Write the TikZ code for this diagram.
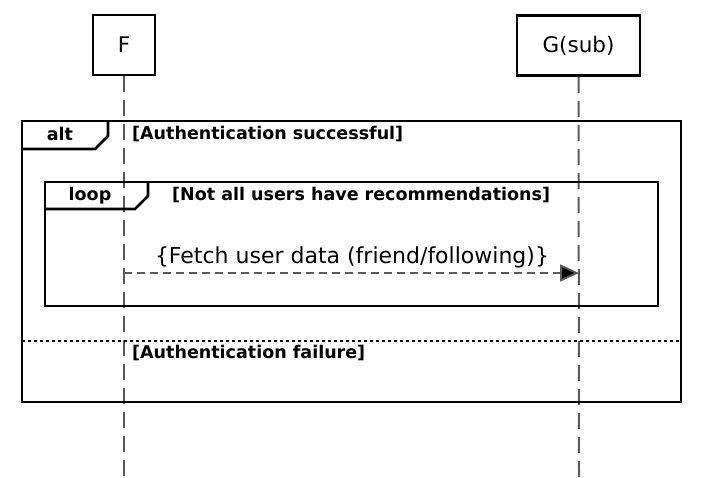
\documentclass[tikz,border=0pt]{standalone}
\usepackage{fontspec}
\setmainfont{DejaVu Sans}
\usetikzlibrary{arrows.meta, positioning, calc}
\definecolor{lifeGray}{HTML}{5A5A5A}
\definecolor{frameDark}{HTML}{000000}

\begin{document}
\begin{tikzpicture}[x=1pt, y=-1pt,
    actor/.style={rectangle, draw=frameDark, line width=2.8pt, minimum height=60pt,
      inner sep=0pt, font=\fontsize{21.5}{24}\selectfont},
    life/.style={lifeGray, line width=2pt, dash pattern=on 16pt off 8pt},
    frame/.style={draw=frameDark, line width=2.6pt},
    tag/.style={font=\bfseries\fontsize{17.5}{20}\selectfont, inner sep=0pt},
    msg/.style={-{Triangle[length=19pt, width=17pt, fill=frameDark]}, lifeGray, line width=1.8pt,
      dash pattern=on 8pt off 5pt},
    lb/.style={font=\fontsize{22}{25}\selectfont, inner sep=0pt}]
    \useasboundingbox (0,0) rectangle (703,477);
    % actors
    \node[actor, minimum width=62pt] (f) at (124,45) {F};
    \node[actor, minimum width=123pt] (g) at (578.5,45.5) {G(sub)};
    \coordinate (fEnd) at (124,477);
    \coordinate (gEnd) at (579,477);
    \draw[life] (f.south) -- (fEnd);
    \draw[life] (g.south) -- (gEnd);
    % alt frame
    \draw[frame] (22,121) rectangle (681,402);
    \draw[frame] (22,149) -- (95,149) -- (108,136) -- (108,121);
    \node[tag] (altTag) at (60,134) {alt};
    \node[tag, anchor=west] (altOk) at (132,134) {[Authentication successful]};
    \draw[frameDark, line width=2.2pt, dash pattern=on 3pt off 3pt] (22,341) -- (681,341);
    \node[tag, anchor=west] (altFail) at (132,353) {[Authentication failure]};
    % loop frame
    \draw[frame] (45,182) rectangle (658,306);
    \draw[frame] (45,209) -- (135,209) -- (148,196) -- (148,182);
    \node[tag] (loopTag) at (90,195.5) {loop};
    \node[tag, anchor=west] (loopCond) at (172,195.5) {[Not all users have recommendations]};
    % message
    \coordinate (mFrom) at (124,273);
    \coordinate (mTo) at (579,273);
    \draw[msg] (mFrom) -- (mTo);
    \node[lb] (mLabel) at (352,257) {\{Fetch user data (friend/following)\}};
\end{tikzpicture}
\end{document}
